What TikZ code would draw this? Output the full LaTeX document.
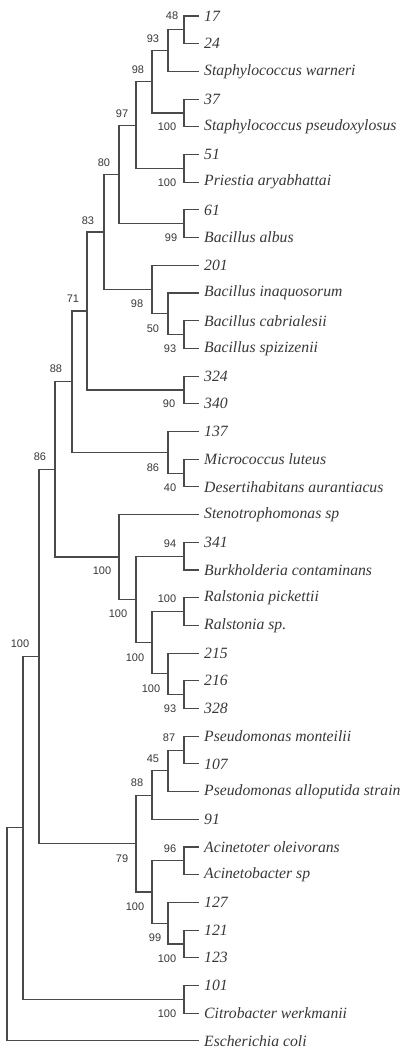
\documentclass[tikz,border=0pt]{standalone}
\usepackage{fontspec}
\setmainfont{Liberation Serif}
\newfontfamily\bsfont{Liberation Sans}
\definecolor{TreeInk}{HTML}{383838}
\definecolor{TreeLine}{HTML}{4A4A4A}
\tikzset{
  branch/.style={draw=TreeLine,line width=1.1pt},
  taxon/.style={anchor=west,inner xsep=5pt,inner ysep=0pt,text=TreeInk,
                font=\fontsize{15.7}{18}\selectfont\itshape},
  boot/.style={text=TreeInk,inner sep=0pt,font=\bsfont\fontsize{11}{13}\selectfont},
}
\begin{document}
\begin{tikzpicture}[x=1pt,y=-1pt]
  \fill[white] (0,0) rectangle (404,1049);
  \useasboundingbox (0,0) rectangle (404,1049);

  \begin{scope}[yshift=4pt]
  % taxa, one row each
  \foreach \i/\name in {1/17,2/24,3/Staphylococcus warneri,4/37,
      5/Staphylococcus pseudoxylosus,6/51,7/Priestia aryabhattai,8/61,
      9/Bacillus albus,10/201,11/Bacillus inaquosorum,12/Bacillus cabrialesii,
      13/Bacillus spizizenii,14/324,15/340,16/137,17/Micrococcus luteus,
      18/Desertihabitans aurantiacus,19/Stenotrophomonas sp,20/341,
      21/Burkholderia contaminans,22/Ralstonia pickettii,23/Ralstonia sp.,
      24/215,25/216,26/328,27/Pseudomonas monteilii,28/107,
      29/Pseudomonas alloputida strain,30/91,31/Acinetoter oleivorans,
      32/Acinetobacter sp,33/127,34/121,35/123,36/101,
      37/Citrobacter werkmanii,38/Escherichia coli}
    \node[taxon] (t\i) at (199,{20+27.7*(\i-1)}) {\name};

  % internal nodes
  \coordinate (nA) at (184,33.9);
  \coordinate (nB) at (168,54.6);
  \coordinate (nD) at (184,117);
  \coordinate (nC) at (152,85.8);
  \coordinate (nF) at (184,172.4);
  \coordinate (nE) at (136,129.1);
  \coordinate (nH) at (184,227.8);
  \coordinate (nG) at (119,178.4);
  \coordinate (nM) at (184,338.6);
  \coordinate (nL) at (168,317.8);
  \coordinate (nK) at (152,293.6);
  \coordinate (nI) at (104,236);
  \coordinate (nN) at (184,394);
  \coordinate (nJ) at (87,315);
  \coordinate (nR) at (184,477.1);
  \coordinate (nP) at (168,456.3);
  \coordinate (nO) at (72,385.6);
  \coordinate (nV) at (184,560.2);
  \coordinate (nX) at (184,615.6);
  \coordinate (nZ) at (184,698.7);
  \coordinate (nY) at (168,677.9);
  \coordinate (nW) at (152,646.7);
  \coordinate (nU) at (136,603.4);
  \coordinate (nT) at (119,561);
  \coordinate (nQ) at (55,473.3);
  \coordinate (nAA) at (184,754.1);
  \coordinate (nAB) at (168,774.8);
  \coordinate (nAC) at (152,799.1);
  \coordinate (nAF) at (184,864.9);
  \coordinate (nAH) at (184,948);
  \coordinate (nAG) at (168,927.2);
  \coordinate (nAE) at (152,896);
  \coordinate (nAD) at (136,847.5);
  \coordinate (nS) at (39,660.4);
  \coordinate (nAI) at (184,1003.4);
  \coordinate (nAJ) at (23,831.9);
  \coordinate (root) at (7,938.4);

  % branches: upper child, node, lower child
  \foreach \a/\n/\b in {t1.west/nA/t2.west, nA/nB/t3.west, t4.west/nD/t5.west,
      nB/nC/nD, t6.west/nF/t7.west, nC/nE/nF, t8.west/nH/t9.west, nE/nG/nH,
      t12.west/nM/t13.west, t11.west/nL/nM, t10.west/nK/nL, nG/nI/nK,
      t14.west/nN/t15.west, nI/nJ/nN, t17.west/nR/t18.west, t16.west/nP/nR,
      nJ/nO/nP, t20.west/nV/t21.west, t22.west/nX/t23.west,
      t25.west/nZ/t26.west, t24.west/nY/nZ, nX/nW/nY, nV/nU/nW,
      t19.west/nT/nU, nO/nQ/nT, t27.west/nAA/t28.west, nAA/nAB/t29.west,
      nAB/nAC/t30.west, t31.west/nAF/t32.west, t34.west/nAH/t35.west,
      t33.west/nAG/nAH, nAF/nAE/nAG, nAC/nAD/nAE, nQ/nS/nAD,
      t36.west/nAI/t37.west, nS/nAJ/nAI, nAJ/root/t38.west}
    \draw[branch] (\a) -| (\n) |- (\b);

  % bootstrap values
  \node[boot] (bA) at (172,20) {48};
  \node[boot] (bB) at (153,43) {93};
  \node[boot] (bC) at (138,74) {98};
  \node[boot] (bD) at (167,131) {100};
  \node[boot] (bE) at (122,118) {97};
  \node[boot] (bF) at (167,187) {100};
  \node[boot] (bG) at (104,167) {80};
  \node[boot] (bH) at (171,242) {99};
  \node[boot] (bI) at (88,225) {83};
  \node[boot] (bJ) at (73,303) {71};
  \node[boot] (bK) at (137,308) {98};
  \node[boot] (bL) at (153,333) {50};
  \node[boot] (bM) at (170,353) {93};
  \node[boot] (bN) at (169,408) {90};
  \node[boot] (bO) at (56,373) {88};
  \node[boot] (bP) at (153,472) {86};
  \node[boot] (bR) at (170,492) {40};
  \node[boot] (bQ) at (40,461) {86};
  \node[boot] (bS) at (20,648) {100};
  \node[boot] (bT) at (102,575) {100};
  \node[boot] (bV) at (170,548) {94};
  \node[boot] (bU) at (118,618) {100};
  \node[boot] (bX) at (167,603) {100};
  \node[boot] (bW) at (135,662) {100};
  \node[boot] (bY) at (151,693) {100};
  \node[boot] (bZ) at (170,713) {93};
  \node[boot] (bAA) at (169,742) {87};
  \node[boot] (bAB) at (153,763) {45};
  \node[boot] (bAC) at (137,787) {88};
  \node[boot] (bAD) at (122,863) {79};
  \node[boot] (bAF) at (170,853) {96};
  \node[boot] (bAE) at (135,911) {100};
  \node[boot] (bAG) at (155,942) {99};
  \node[boot] (bAH) at (167,963) {100};
  \node[boot] (bAI) at (167,1018) {100};
  \end{scope}
\end{tikzpicture}
\end{document}
